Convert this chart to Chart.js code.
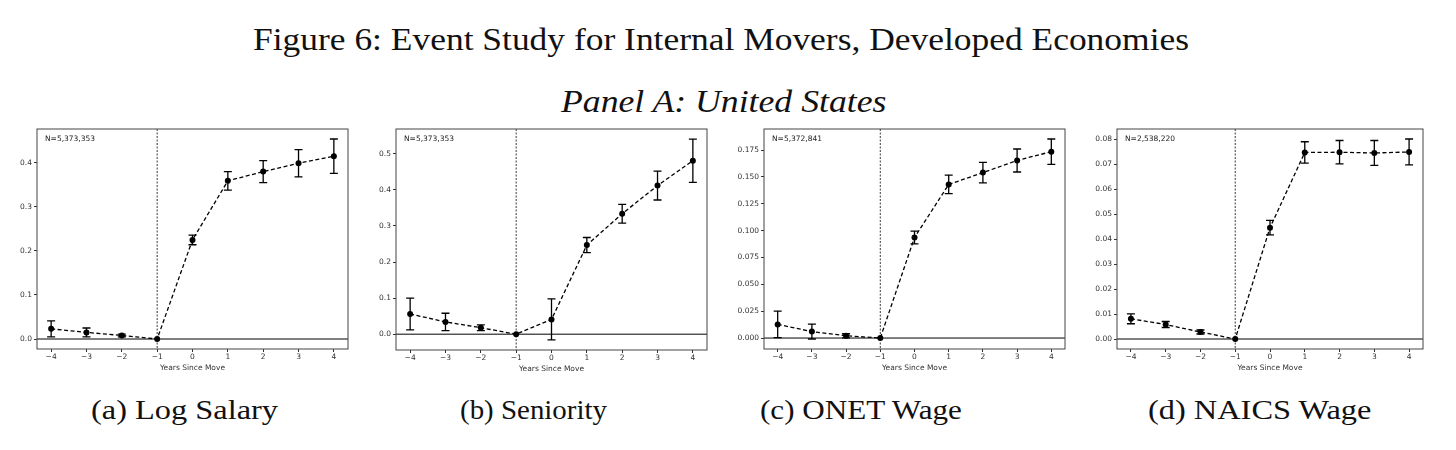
<!DOCTYPE html>
<html>
<head>
<meta charset="utf-8">
<script src="https://cdn.jsdelivr.net/npm/chart.js@4.4.1/dist/chart.umd.min.js"></script>
<style>
    body {
        margin: 0;
        background: #fff;
        width: 1456px;
        height: 450px;
        position: relative;
        overflow: hidden;
    }
    .txt {
        position: absolute;
        font-family: 'Liberation Serif', serif;
        color: #111;
        white-space: nowrap;
        line-height: 1;
        transform-origin: 0 0;
    }
    .box {
        position: absolute;
    }
</style>
</head>
<body id="body">
<div id="figTitle" class="txt">Figure 6: Event Study for Internal Movers, Developed Economies</div>
<div id="panelTitle" class="txt" style="font-style: italic;">Panel A: United States</div>
<div id="capA" class="txt">(a) Log Salary</div>
<div id="capB" class="txt">(b) Seniority</div>
<div id="capC" class="txt">(c) ONET Wage</div>
<div id="capD" class="txt">(d) NAICS Wage</div>

<div id="box0" class="box"><canvas id="chart0"></canvas></div>
<div id="box1" class="box"><canvas id="chart1"></canvas></div>
<div id="box2" class="box"><canvas id="chart2"></canvas></div>
<div id="box3" class="box"><canvas id="chart3"></canvas></div>

<script>
// years since move
let years = [-4, -3, -2, -1, 0, 1, 2, 3, 4];

// (a) Log Salary
let logSalary = [0.023, 0.015, 0.008, 0, 0.225, 0.359, 0.380, 0.399, 0.415];
let logSalaryErr = [0.018, 0.010, 0.003, 0, 0.011, 0.021, 0.025, 0.031, 0.039];

// (b) Seniority
let seniority = [0.056, 0.034, 0.018, 0, 0.041, 0.247, 0.334, 0.412, 0.481];
let seniorityErr = [0.044, 0.024, 0.008, 0, 0.057, 0.021, 0.026, 0.040, 0.060];

// (c) ONET Wage
let onetWage = [0.0127, 0.0060, 0.0021, 0, 0.0936, 0.1430, 0.1540, 0.1653, 0.1735];
let onetWageErr = [0.0124, 0.0069, 0.0019, 0, 0.0060, 0.0086, 0.0096, 0.0107, 0.0118];

// (d) NAICS Wage
let naicsWage = [0.0081, 0.0058, 0.0028, 0, 0.0446, 0.0747, 0.0748, 0.0745, 0.0749];
let naicsWageErr = [0.0020, 0.0012, 0.0008, 0, 0.0029, 0.0043, 0.0047, 0.0050, 0.0052];

let sampleSizes = ['N=5,373,353', 'N=5,373,353', 'N=5,372,841', 'N=2,538,220'];
let yTickSteps = [0.1, 0.1, 0.025, 0.01];
let yTickDecimals = [1, 1, 3, 2];
let xLabel = 'Years Since Move';

let allValues = [logSalary, seniority, onetWage, naicsWage];
let allErrors = [logSalaryErr, seniorityErr, onetWageErr, naicsWageErr];

// plot box of every panel in page pixels: left, right, top, bottom
let plotBoxes = [
    [37, 349, 129, 349],
    [396, 708, 129, 350],
    [764, 1066, 129, 349],
    [1117, 1424, 129, 349]
];

let yAxisWidth = 45;
let xAxisHeight = 26;
let padTop = 9;
let padRight = 3;

// size by cap height, then stretch sideways to the measured width
function fitText(id, left, right, baseline, capHeight) {
    let el = document.getElementById(id);
    let style = getComputedStyle(el);
    let size = capHeight / 0.662;
    let ctx = document.createElement('canvas').getContext('2d');
    ctx.font = style.fontStyle + ' ' + size + 'px ' + style.fontFamily;
    let width = ctx.measureText(el.textContent).width;
    el.style.fontSize = size + 'px';
    el.style.left = left + 'px';
    el.style.top = (baseline - 0.8375 * size) + 'px';
    el.style.transform = 'scaleX(' + ((right - left) / width) + ')';
}

function placeTexts() {
    fitText('figTitle', 253, 1189, 51, 21);
    fitText('panelTitle', 561, 887, 113, 21);
    fitText('capA', 91, 278, 419, 18.3);
    fitText('capB', 460, 607, 419, 18.3);
    fitText('capC', 760, 963, 419, 18.3);
    fitText('capD', 1148, 1372, 419, 18.3);
}

function yLimits(values, errors) {
    let lo = Infinity;
    let hi = -Infinity;
    for (let i = 0; i < values.length; i++) {
        lo = Math.min(lo, values[i] - errors[i]);
        hi = Math.max(hi, values[i] + errors[i]);
    }
    let margin = (hi - lo) * 0.05;
    return [lo - margin, hi + margin];
}

function minusSign(text) {
    return String(text).replace('-', '\u2212');
}

let refLinesPlugin = {
    id: 'refLines',
    beforeDatasetsDraw(chart) {
        let ctx = chart.ctx;
        let area = chart.chartArea;
        let xs = chart.scales.x;
        let ys = chart.scales.y;
        ctx.save();
        // zero line
        ctx.strokeStyle = '#000';
        ctx.lineWidth = 1;
        ctx.beginPath();
        ctx.moveTo(area.left, ys.getPixelForValue(0));
        ctx.lineTo(area.right, ys.getPixelForValue(0));
        ctx.stroke();
        // event line at -1
        ctx.setLineDash([2, 1.5]);
        ctx.lineWidth = 0.9;
        ctx.strokeStyle = '#222';
        ctx.beginPath();
        ctx.moveTo(xs.getPixelForValue(-1), area.top);
        ctx.lineTo(xs.getPixelForValue(-1), area.bottom);
        ctx.stroke();
        ctx.restore();
    }
};

let errorBarsPlugin = {
    id: 'errorBars',
    afterDatasetsDraw(chart, args, opts) {
        let ctx = chart.ctx;
        let xs = chart.scales.x;
        let ys = chart.scales.y;
        let values = opts.values;
        let errors = opts.errors;
        ctx.save();
        ctx.strokeStyle = '#000';
        ctx.lineWidth = 1.3;
        for (let i = 0; i < values.length; i++) {
            if (errors[i] == 0) continue;
            let px = xs.getPixelForValue(years[i]);
            let top = ys.getPixelForValue(values[i] + errors[i]);
            let bottom = ys.getPixelForValue(values[i] - errors[i]);
            ctx.beginPath();
            ctx.moveTo(px, top);
            ctx.lineTo(px, bottom);
            ctx.moveTo(px - 4, top);
            ctx.lineTo(px + 4, top);
            ctx.moveTo(px - 4, bottom);
            ctx.lineTo(px + 4, bottom);
            ctx.stroke();
        }
        ctx.restore();
    }
};

let framePlugin = {
    id: 'frame',
    afterDraw(chart, args, opts) {
        let ctx = chart.ctx;
        let area = chart.chartArea;
        ctx.save();
        ctx.strokeStyle = '#444';
        ctx.lineWidth = 1;
        ctx.strokeRect(area.left, area.top, area.right - area.left, area.bottom - area.top);
        ctx.fillStyle = '#222';
        ctx.font = '7.5px "DejaVu Sans"';
        ctx.textBaseline = 'middle';
        ctx.fillText(opts.label, area.left + 8, area.top + 10);
        ctx.restore();
    }
};

function renderPanel(i) {
    let box = plotBoxes[i];
    let holder = document.getElementById('box' + i);
    holder.style.left = (box[0] - yAxisWidth) + 'px';
    holder.style.top = (box[2] - padTop) + 'px';
    holder.style.width = (box[1] - box[0] + yAxisWidth + padRight) + 'px';
    holder.style.height = (box[3] - box[2] + padTop + xAxisHeight) + 'px';

    let values = allValues[i];
    let errors = allErrors[i];
    let limits = yLimits(values, errors);
    let step = yTickSteps[i];
    let decimals = yTickDecimals[i];

    let points = [];
    for (let j = 0; j < years.length; j++) {
        points.push({ x: years[j], y: values[j] });
    }

    new Chart(document.getElementById('chart' + i), {
        type: 'line',
        data: {
            datasets: [{
                data: points,
                borderColor: '#000',
                borderWidth: 1.3,
                borderDash: [4, 2.5],
                pointRadius: 3,
                pointBackgroundColor: '#000',
                pointBorderColor: '#000',
                pointBorderWidth: 0,
                tension: 0
            }]
        },
        options: {
            responsive: true,
            maintainAspectRatio: false,
            animation: false,
            events: [],
            layout: {
                padding: { top: padTop, right: padRight, left: 0, bottom: 0 }
            },
            plugins: {
                legend: { display: false },
                tooltip: { enabled: false },
                errorBars: { values: values, errors: errors },
                frame: { label: sampleSizes[i] }
            },
            scales: {
                x: {
                    type: 'linear',
                    min: -4.4,
                    max: 4.4,
                    afterBuildTicks(scale) {
                        scale.ticks = years.map(v => ({ value: v }));
                    },
                    afterFit(scale) {
                        scale.height = xAxisHeight;
                    },
                    ticks: {
                        callback: v => minusSign(v),
                        font: { family: 'DejaVu Sans', size: 7.5 },
                        color: '#333',
                        padding: 1,
                        maxRotation: 0,
                        autoSkip: false
                    },
                    grid: {
                        drawOnChartArea: false,
                        drawTicks: true,
                        tickLength: 3,
                        color: '#333'
                    },
                    border: { display: false },
                    title: {
                        display: true,
                        text: xLabel,
                        font: { family: 'DejaVu Sans', size: 7.5 },
                        color: '#333',
                        padding: { top: 0, bottom: 2 }
                    }
                },
                y: {
                    type: 'linear',
                    min: limits[0],
                    max: limits[1],
                    afterBuildTicks(scale) {
                        let ticks = [];
                        for (let k = Math.ceil(limits[0] / step - 1e-9); k * step <= limits[1] + 1e-9; k++) {
                            ticks.push({ value: k * step });
                        }
                        scale.ticks = ticks;
                    },
                    afterFit(scale) {
                        scale.width = yAxisWidth;
                    },
                    ticks: {
                        callback: v => minusSign(Math.abs(v) < 1e-9 ? (0).toFixed(decimals) : v.toFixed(decimals)),
                        font: { family: 'DejaVu Sans', size: 7.5 },
                        color: '#333',
                        padding: 2,
                        autoSkip: false
                    },
                    grid: {
                        drawOnChartArea: false,
                        drawTicks: true,
                        tickLength: 3,
                        color: '#333'
                    },
                    border: { display: false }
                }
            }
        },
        plugins: [refLinesPlugin, errorBarsPlugin, framePlugin]
    });
}

placeTexts();
for (let i = 0; i < 4; i++) {
    renderPanel(i);
}
</script>
</body>
</html>
